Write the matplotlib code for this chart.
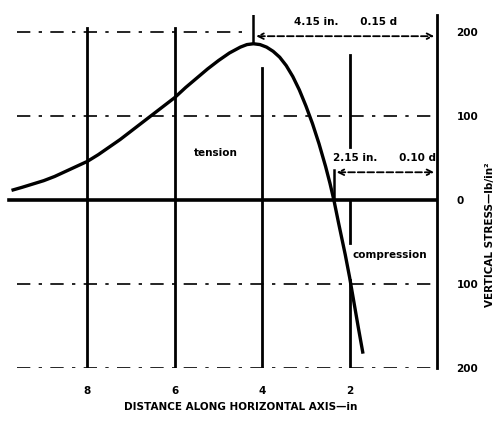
import matplotlib
matplotlib.use('Agg')
import matplotlib.pyplot as plt

# curve (distance in, stress lb/in^2)
dist = [9.7, 9.5, 9.25, 9.0, 8.75, 8.5, 8.25, 8.0, 7.75, 7.5, 7.25, 7.0, 6.75, 6.5, 6.25, 6.0,
	5.75, 5.5, 5.25, 5.0, 4.75, 4.5, 4.35, 4.2, 4.05, 3.9, 3.75, 3.6, 3.45, 3.3, 3.15, 3.0,
	2.85, 2.7, 2.55, 2.45, 2.36, 2.25, 2.1, 2.0, 1.9, 1.8, 1.7]
stress = [12, 15, 19, 23, 28, 34, 40, 46, 54, 63, 72, 82, 92, 102, 112, 122,
	134, 145, 156, 166, 175, 182, 185, 186, 185, 182, 177, 170, 160, 147, 131, 112,
	91, 67, 40, 20, 0, -28, -65, -92, -122, -152, -181]
xticks = [8, 6, 4, 2]
xticklabels = ['8', '6', '4', '2']
yticks = [200, 100, 0, -100, -200]
yticklabels = ['200', '100', '0', '100', '200']
grid_h = [100, -100, -200]


def main():
	fig = plt.figure(figsize=(5.04, 4.22), dpi=100)
	ax = fig.add_axes([0.0, 0.128, 437/504, 0.836])
	ax.set_xlim(10, 0)
	ax.set_ylim(-200, 220)
	for s in ['left', 'top', 'bottom']:
		ax.spines[s].set_visible(False)
	ax.spines['right'].set_linewidth(2)
	fb = dict(fontsize=7.5, fontweight='bold', family='DejaVu Sans')

	# dashed horizontal grid
	ds = (0, (8, 5, 2, 5))
	ax.plot([9.6, 4.4], [200, 200], color='k', lw=1.2, ls=ds)
	for g in grid_h:
		ax.plot([9.6, 0], [g, g], color='k', lw=1.2, ls=ds)

	# vertical grid lines
	ax.plot([8, 8], [205, -202], color='k', lw=2)
	ax.plot([6, 6], [205, -200], color='k', lw=2)
	ax.plot([4, 4], [157, -200], color='k', lw=2)
	ax.plot([2, 2], [173, 63], color='k', lw=2)
	ax.plot([2, 2], [0, -51], color='k', lw=2)
	ax.plot([2, 2], [-95, -202], color='k', lw=2)

	# zero axis
	ax.plot([9.8, 0], [0, 0], color='k', lw=2.6)

	ax.plot(dist, stress, color='k', lw=2.4, solid_joinstyle='round')

	# 4.15 in. dimension
	ax.plot([4.2, 4.2], [221, 188], color='k', lw=1.8)
	ax.annotate('', xy=(0, 195), xytext=(4.2, 195),
		arrowprops=dict(arrowstyle='<->', color='k', lw=1.3, ls='--'))
	ax.text(2.1, 206, '4.15 in.      0.15 d', ha='center', va='bottom', **fb)

	# 2.15 in. dimension
	ax.plot([2.36, 2.36], [36, 0], color='k', lw=1.8)
	ax.annotate('', xy=(0, 33), xytext=(2.36, 33),
		arrowprops=dict(arrowstyle='<->', color='k', lw=1.3, ls='--'))
	ax.text(1.2, 44, '2.15 in.      0.10 d', ha='center', va='bottom', **fb)

	ax.text(5.06, 56, 'tension', ha='center', va='center', **fb)
	ax.text(1.08, -65, 'compression', ha='center', va='center', **fb)

	ax.set_xticks(xticks)
	ax.set_xticklabels(xticklabels, **fb)
	ax.yaxis.tick_right()
	ax.set_yticks(yticks)
	ax.set_yticklabels(yticklabels, **fb)
	ax.tick_params(axis='x', length=0, pad=13)
	ax.tick_params(axis='y', length=0, pad=14)

	fig.text(241/504, 1 - 407/422, 'DISTANCE ALONG HORIZONTAL AXIS\u2014in', ha='center', va='center', **fb)
	fig.text(490/504, 1 - 235/422, 'VERTICAL STRESS\u2014lb/in\u00b2', ha='center', va='center', rotation=90, **fb)

	fig.savefig('out.png', dpi=100)


if __name__ == '__main__':
	main()
